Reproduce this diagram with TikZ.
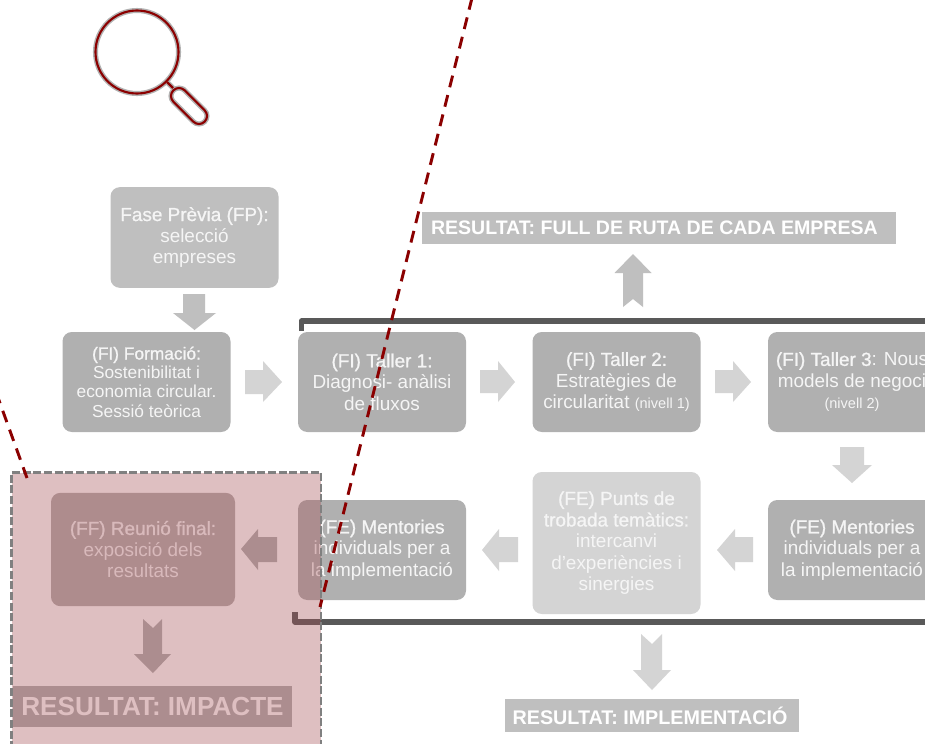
\documentclass[tikz,border=0pt]{standalone}
\usepackage{fontspec}
\setmainfont{Liberation Sans}
\newfontfamily\semi[FakeBold=1.1]{Liberation Sans}
\usetikzlibrary{calc}
\definecolor{boxgray}{HTML}{B0B0B0}
\definecolor{lightbox}{HTML}{D4D4D4}
\definecolor{midbox}{HTML}{BFBFBF}
\definecolor{reubox}{HTML}{B4AEAE}
\definecolor{barcol}{HTML}{595959}
\definecolor{darkred}{HTML}{8B0000}
\definecolor{pinkover}{RGB}{166,80,85}
\definecolor{txt}{HTML}{F5F5F5}
\newcommand{\hb}[1]{{\semi #1}}
\newcommand{\bodyfont}{\fontsize{14.2}{16.1}\selectfont}
\newcommand{\smallbody}{\fontsize{13}{14.4}\selectfont}
\newcommand{\nivfont}{\fontsize{10.9}{11}\selectfont}
\tikzset{
  x=0.75pt,y=-0.75pt,
  stagebox/.style={rounded corners=7pt,fill=boxgray,text=txt,align=center,inner sep=0pt,minimum width=126pt,minimum height=75pt,font=\bodyfont},
  resbar/.style={fill=midbox,text=white,inner sep=0pt,font=\bfseries},
  blockarrow/.style={fill=#1,draw=none},
  bracket/.style={draw=barcol,line width=4.2pt,line join=round},
  cutline/.style={draw=darkred,line width=2.2pt,dash pattern=on 9pt off 6pt},
}
\begin{document}
\begin{tikzpicture}
\useasboundingbox (0,0) rectangle (925,743);
\clip (0,0) rectangle (925,743);
\fill[white] (0,0) rectangle (925,743);

% magnifier
\foreach \c/\w in {gray!60/3.8pt,darkred/1.6pt}{
  \draw[draw=\c,line width=\w] (137,52) circle (41.5);
  \draw[draw=\c,line width=\w] (167,82) -- (173,88);
  \draw[draw=\c,line width=\w] (184.66,90.34) -- (204.66,110.34) arc (-45:135:8) -- (173.34,101.66) arc (135:315:8) -- cycle;
}

% boxes
\node[stagebox,fill=midbox,minimum height=75.5pt] (fp) at (194.5,237.5) {\hb{Fase Pr\`evia (FP):}\\selecci\'o\\empreses};
\node[stagebox,font=\smallbody] (form) at (146.5,382) {\hb{(FI) Formaci\'o:}\\Sostenibilitat i\\economia circular.\\Sessi\'o te\`orica};
\node[stagebox] (t1) at (382,382) {\hb{(FI) Taller 1:}\\Diagnosi- an\`alisi\\de fluxos};
\node[stagebox] (t2) at (616.5,382) {\hb{(FI) Taller 2:}\\Estrat\`egies de\\circularitat {\nivfont(nivell 1)}};
\node[stagebox] (t3) at (852,382) {\hb{(FI) Taller 3}: Nous\\models de negoci\\{\nivfont(nivell 2)}};
\node[stagebox] (m2) at (852,550) {\hb{(FE) Mentories}\\individuals per a\\la implementaci\'o};
\node[stagebox,fill=lightbox,minimum height=106.5pt] (punts) at (616.5,543) {\hb{(FE) Punts de}\\\hb{trobada tem\`atics:}\\intercanvi\\d’experi\`encies i\\sinergies};
\node[stagebox] (m1) at (382,550) {\hb{(FE) Mentories}\\individuals per a\\la implementaci\'o};
\node[stagebox,fill=reubox,minimum width=138pt,minimum height=85pt] (reu) at (143,549.5) {\hb{(FF) Reuni\'o final:}\\exposici\'o dels\\resultats};

% result bars
\node[resbar,minimum width=355.5pt,minimum height=24pt,font=\bfseries\fontsize{14.65}{16}\selectfont] (r1) at (659,228) {\makebox[342pt][l]{RESULTAT: FULL DE RUTA DE CADA EMPRESA}};
\node[resbar,minimum width=220.5pt,minimum height=24.8pt,font=\bfseries\fontsize{14.8}{16}\selectfont] (r2) at (652,715.5) {\hspace{-3pt}RESULTAT: IMPLEMENTACI\'O};
\node[resbar,fill=boxgray,minimum width=209pt,minimum height=30.8pt,text=white,font=\bfseries\fontsize{19.6}{21}\selectfont] (r3) at (152.5,706.5) {RESULTAT: IMPACTE};

% brackets
\draw[bracket] (301.5,331) -- (301.5,321) -- (940,321);
\draw[bracket] (295,612) -- (295,622) -- (940,622);

% right arrows
\fill[blockarrow=lightbox] (245,370) -- (263,370) -- (263,361) -- (282,382) -- (263,402) -- (263,394) -- (245,394) -- cycle;
\fill[blockarrow=lightbox] (480,370) -- (498,370) -- (498,361) -- (515,382) -- (498,402) -- (498,393) -- (480,393) -- cycle;
\fill[blockarrow=lightbox] (715,370) -- (733,370) -- (733,361) -- (751,382) -- (733,402) -- (733,393) -- (715,393) -- cycle;
% left arrows
\fill[blockarrow=lightbox] (717,550) -- (735,529) -- (735,537) -- (753,537) -- (753,562) -- (735,562) -- (735,571) -- cycle;
\fill[blockarrow=lightbox] (482,550) -- (499,529) -- (499,537) -- (518,537) -- (518,562) -- (499,562) -- (499,571) -- cycle;
\fill[blockarrow=boxgray] (241,549) -- (258,529) -- (258,537) -- (277,537) -- (277,562) -- (258,562) -- (258,570) -- cycle;
% down arrows
\fill[blockarrow=midbox] (183,294) -- (205,294) -- (205,313) -- (216,313) -- (194.5,330) -- (173,313) -- (183,313) -- cycle;
\fill[blockarrow=lightbox] (840,447) -- (864,447) -- (864,465) -- (872,465) -- (852,483) -- (832,465) -- (840,465) -- cycle;
\fill[blockarrow=lightbox] (641,634) -- (652,644) -- (662,634) -- (662,670) -- (671,670) -- (652,690) -- (633,670) -- (641,670) -- cycle;
\fill[blockarrow=boxgray] (143,619) -- (153,628) -- (162,619) -- (162,654) -- (171,654) -- (153,673) -- (134,654) -- (143,654) -- cycle;
% up arrow
\fill[blockarrow=midbox] (633,254) -- (651.5,273) -- (643,273) -- (643,307) -- (633,299) -- (623,307) -- (623,273) -- (614.5,273) -- cycle;

% overlay
\fill[pinkover,opacity=0.36] (11.5,472.5) rectangle (321,760);
\draw[gray,line width=2pt,dash pattern=on 6pt off 2pt] (11.5,760) -- (11.5,472.5) -- (321,472.5) -- (321,760);

% cut lines
\coordinate (c1a) at (472,-2);
\coordinate (c1b) at (320,607);
\coordinate (c2a) at (-4,392);
\coordinate (c2b) at (27,478);
\draw[cutline] (c1a) -- (c1b);
\draw[cutline] (c2a) -- (c2b);
\end{tikzpicture}
\end{document}
